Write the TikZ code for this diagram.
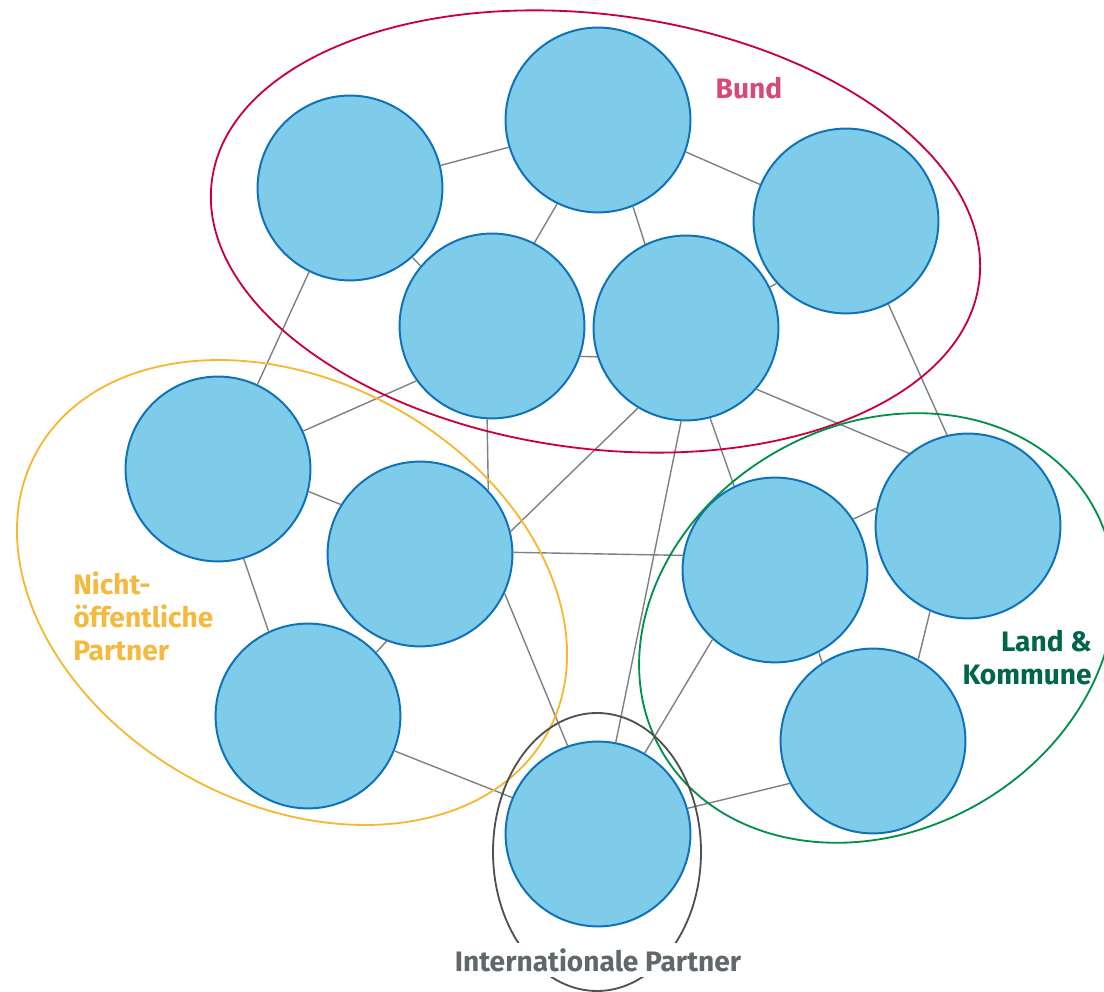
\documentclass[tikz,border=0pt]{standalone}
\usepackage{fontspec}
\setmainfont{Fira Sans}
\usepackage{tikz}

\definecolor{partnerfill}{HTML}{7FCBEA}
\definecolor{partnerline}{HTML}{0E72B8}
\definecolor{bundline}{HTML}{C8003F}
\definecolor{bundtext}{HTML}{D6497B}
\definecolor{nichtline}{HTML}{F7B731}
\definecolor{nichttext}{HTML}{F6B940}
\definecolor{landline}{HTML}{00904C}
\definecolor{landtext}{HTML}{00654A}
\definecolor{intline}{HTML}{505050}
\definecolor{inttext}{HTML}{60686C}

\begin{document}
\begin{tikzpicture}[x=0.025cm,y=0.025cm,
    partner/.style={circle, fill=partnerfill, draw=partnerline, line width=1.4pt, minimum size=4.62cm, inner sep=0pt},
    link/.style={draw=gray, line width=1pt},
    group/.style={line width=1.3pt},
    grouplabel/.style={font=\bfseries\fontsize{20}{23.5}\selectfont, inner sep=0pt}]
        \useasboundingbox (0,0) rectangle (1104,992);
        % Bund
        \node[partner] (b1) at (350,804) {};
        \node[partner] (b2) at (598,872) {};
        \node[partner] (b3) at (846,771) {};
        \node[partner] (b4) at (492,666) {};
        \node[partner] (b5) at (686,664) {};
        % Nicht-oeffentliche Partner
        \node[partner] (n1) at (218,523) {};
        \node[partner] (n2) at (420,438) {};
        \node[partner] (n3) at (308,276) {};
        % Land & Kommune
        \node[partner] (l1) at (775,422) {};
        \node[partner] (l2) at (968,466) {};
        \node[partner] (l3) at (873,251) {};
        % Internationale Partner
        \node[partner] (i1) at (598,158) {};
        \draw[link] (b1.14) -- (b2.197);
        \draw[link] (b2.-20) -- (b3.157);
        \draw[link] (b2.-116) -- (b4.63);
        \draw[link] (b2.-68) -- (b5.116);
        \draw[link] (b1.-48) -- (b4.140);
        \draw[link] (b3.-138) -- (b5.26);
        \draw[link] (b4.-19) -- (b5.-162);
        \draw[link] (b1.-116) -- (n1.65);
        \draw[link] (b4.-144) -- (n1.24);
        \draw[link] (b4.-93) -- (n2.43);
        \draw[link] (b5.-121) -- (n2.14);
        \draw[link] (b5.-93) -- (i1.79);
        \draw[link] (b5.-41) -- (l2.129);
        \draw[link] (b5.-75) -- (l1.116);
        \draw[link] (b3.-63) -- (l2.103);
        \draw[link] (n1.-14) -- (n2.148);
        \draw[link] (n1.-74) -- (n3.115);
        \draw[link] (n2.-111) -- (n3.43);
        \draw[link] (n2.1) -- (l1.171);
        \draw[link] (n2.-25) -- (i1.109);
        \draw[link] (n3.-22) -- (i1.157);
        \draw[link] (l1.33) -- (l2.169);
        \draw[link] (l1.-62) -- (l3.123);
        \draw[link] (l2.-114) -- (l3.61);
        \draw[link] (l1.-132) -- (i1.60);
        \draw[link] (l3.-153) -- (i1.16);
        \draw[group, bundline, rotate around={-7.6:(595.5,760.5)}] (595.5,760.5) ellipse (387 and 217);
        \draw[group, nichtline, rotate around={-28.8:(292,399.5)}] (292,399.5) ellipse (291.5 and 211.4);
        \draw[group, landline, rotate around={29.5:(877,364)}] (877,364) ellipse (248 and 203);
        \draw[group, intline] (597,140) ellipse (104 and 139);
        \node[grouplabel, bundtext] (bund) at (749,904) {Bund};
        \node[grouplabel, nichttext, anchor=west, align=left] (nicht) at (73,376) {Nicht-\\öffentliche\\Partner};
        \node[grouplabel, landtext, anchor=east, align=right] (land) at (1092,334.5) {Land \&\\Kommune};
        \node[grouplabel, inttext, fill=white, inner xsep=2pt, inner ysep=4pt] (int) at (598,32) {Internationale Partner};
    \end{tikzpicture}
\end{document}
